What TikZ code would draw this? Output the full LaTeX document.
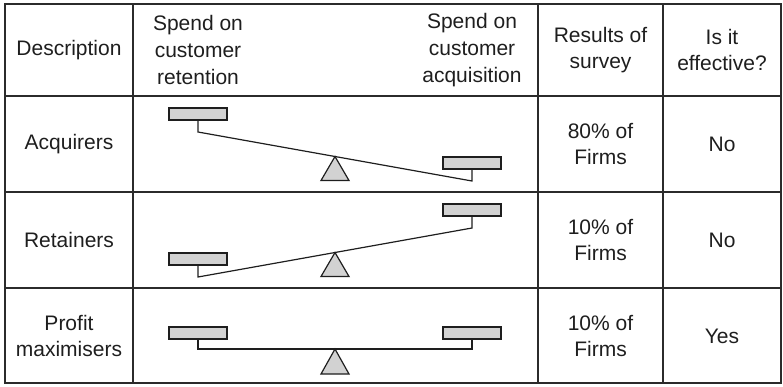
\documentclass[tikz,border=0pt]{standalone}
\usepackage{fontspec}
\setmainfont{Liberation Sans}
\usetikzlibrary{calc}
\definecolor{linegray}{HTML}{2B2B2B}
\definecolor{inkgray}{HTML}{1E1E1E}
\definecolor{boxgray}{HTML}{D2D2D2}
\begin{document}
\begin{tikzpicture}[x=1pt,y=-1pt,
  grid/.style={draw=linegray, line width=1.6pt},
  cell/.style={align=center, font=\fontsize{21}{26.7}\selectfont, text=inkgray, inner sep=0pt},
  weight/.style={draw=inkgray, fill=boxgray, line width=1.3pt, minimum width=58pt, minimum height=12pt, inner sep=0pt},
  beam/.style={draw=inkgray, line width=1.2pt, line join=miter},
  pivot/.style={draw=inkgray, fill=boxgray, line width=1.2pt, line join=miter}]
\useasboundingbox (0,0) rectangle (783,386);

% table frame and rules
\draw[grid] (5,4) rectangle (781,383);
\foreach \x in {133,538,663} \draw[grid] (\x,4) -- (\x,383);
\foreach \y in {96,192,288} \draw[grid] (5,\y) -- (781,\y);

% header row
\node[cell] (h1) at (69,50) {Description};
\node[cell] (h2) at (198,50) {Spend on\\customer\\retention};
\node[cell] (h3) at (472,50) {Spend on\\customer\\acquisition};
\node[cell] (h4) at (600.5,50) {Results of\\survey};
\node[cell] (h5) at (722,50) {Is it\\effective?};

% row labels
\node[cell] (d1) at (69,144) {Acquirers};
\node[cell] (d2) at (69,240) {Retainers};
\node[cell] (d3) at (69,336) {Profit\\maximisers};

\node[cell] (s1) at (600.5,144) {80\% of\\Firms};
\node[cell] (s2) at (600.5,240) {10\% of\\Firms};
\node[cell] (s3) at (600.5,336) {10\% of\\Firms};

\node[cell] (e1) at (722,144) {No};
\node[cell] (e2) at (722,240) {No};
\node[cell] (e3) at (722,336) {Yes};

% seesaw: acquirers (weighted towards acquisition)
\node[weight] (w1L) at (198,114) {};
\node[weight] (w1R) at (472,163) {};
\coordinate (b1L) at (198,132);
\coordinate (b1R) at (472,181);
\coordinate (p1) at ($(b1L)!0.5!(b1R)$);
\draw[pivot] (p1) -- ++(14,24) -- ++(-28,0) -- cycle;
\draw[beam] (w1L.south) -- (b1L) -- (b1R) -- (w1R.south);

% seesaw: retainers (weighted towards retention)
\node[weight] (w2L) at (198,259) {};
\node[weight] (w2R) at (472,210) {};
\coordinate (b2L) at (198,277);
\coordinate (b2R) at (472,228);
\coordinate (p2) at ($(b2L)!0.5!(b2R)$);
\draw[pivot] (p2) -- ++(14,24) -- ++(-28,0) -- cycle;
\draw[beam] (w2L.south) -- (b2L) -- (b2R) -- (w2R.south);

% seesaw: profit maximisers (balanced)
\node[weight] (w3L) at (198,333) {};
\node[weight] (w3R) at (472,333) {};
\coordinate (b3L) at (198,349);
\coordinate (b3R) at (472,349);
\coordinate (p3) at ($(b3L)!0.5!(b3R)$);
\draw[pivot] (p3) -- ++(14,25) -- ++(-28,0) -- cycle;
\draw[beam] (w3L.south) -- (b3L) -- (b3R) -- (w3R.south);
\end{tikzpicture}
\end{document}
